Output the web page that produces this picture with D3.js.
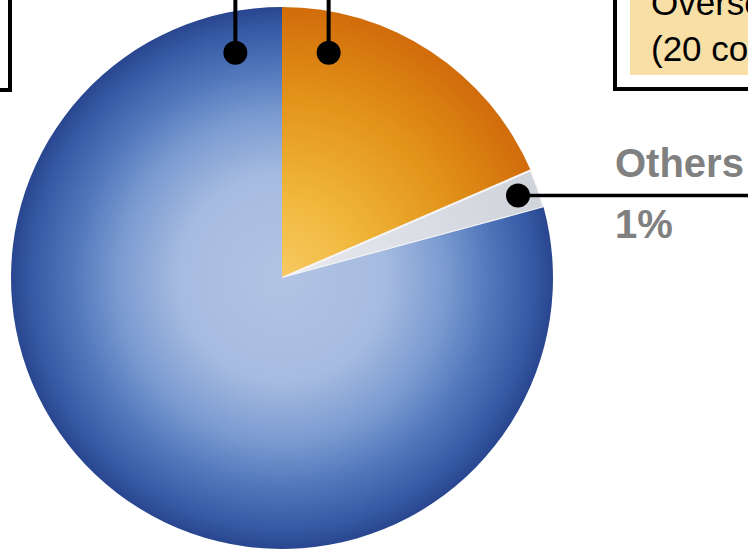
<!DOCTYPE html>
<html>
<head>
<meta charset="utf-8">
<script src="https://cdn.jsdelivr.net/npm/d3@7"></script>
<style>
  html, body { margin: 0; padding: 0; background: #fff; overflow: hidden; }
  svg { display: block; }
</style>
</head>
<body>
<svg id="chart" width="748" height="550"></svg>
<script>
// ---- data ----
const categories = ["Overseas", "Others", "Domestic"];
const values = [18.5, 2.3, 79.2];
const pctLabels = ["", "1%", ""];
const boxLines = ["Overseas", "(20 countries)"];

// ---- layout ----
const W = 748, H = 550;
const cx = 282, cy = 278, R = 271;
const svg = d3.select("#chart");
const defs = svg.append("defs");

function radial(id, stops) {
  const g = defs.append("radialGradient").attr("id", id)
    .attr("gradientUnits", "userSpaceOnUse")
    .attr("cx", 0).attr("cy", 0).attr("r", R);
  stops.forEach(s => g.append("stop").attr("offset", s[0]).attr("stop-color", s[1]));
}
radial("gOrange", [[0, "#f8ca62"], [0.3, "#f0b73c"], [0.65, "#e3951a"], [1, "#d16c0a"]]);
radial("gGray", [[0, "#e8eaee"], [1, "#cfd3da"]]);
radial("gBlue", [[0, "#b2c4e5"], [0.38, "#a6bbe0"], [0.6, "#7b9bd1"], [0.78, "#4f75ba"], [0.92, "#365ba5"], [1, "#29468f"]]);
const fills = ["url(#gOrange)", "url(#gGray)", "url(#gBlue)"];

const pie = d3.pie().sort(null).value(d => d)(values);
const arc = d3.arc().innerRadius(0).outerRadius(R);

const g = svg.append("g").attr("transform", `translate(${cx},${cy})`);
g.selectAll("path.slice").data(pie).join("path")
  .attr("class", "slice")
  .attr("d", arc)
  .attr("fill", (d, i) => fills[i])
  .attr("stroke", (d, i) => i === 1 ? "#f6f6f8" : "none")
  .attr("stroke-width", 2);

// ---- annotation boxes (cropped at the page edges) ----
svg.append("rect").attr("x", -300).attr("y", -60).attr("width", 310).attr("height", 150)
  .attr("fill", "none").attr("stroke", "#000").attr("stroke-width", 4);
svg.append("rect").attr("x", 615).attr("y", -60).attr("width", 400).attr("height", 149)
  .attr("fill", "#fff").attr("stroke", "#000").attr("stroke-width", 4);
svg.append("rect").attr("x", 630).attr("y", -60).attr("width", 400).attr("height", 135)
  .attr("fill", "#f7dfa6");
svg.append("text").attr("x", 651).attr("y", 15)
  .attr("font-family", "Liberation Sans, Arial, sans-serif").attr("font-size", 35)
  .attr("fill", "#000").text(boxLines[0]);
svg.append("text").attr("x", 651).attr("y", 61)
  .attr("font-family", "Liberation Sans, Arial, sans-serif").attr("font-size", 35)
  .attr("fill", "#000").text(boxLines[1]);

// ---- leader lines and dots ----
function polar(r, a) { return [cx + r * Math.sin(a), cy - r * Math.cos(a)]; }
const off = 11.7 * Math.PI / 180;
const pB = polar(230, pie[0].startAngle - off);
const pO = polar(230, pie[0].startAngle + off);
[pB, pO].forEach(p => {
  svg.append("line").attr("x1", p[0]).attr("x2", p[0]).attr("y1", p[1]).attr("y2", -5)
    .attr("stroke", "#000").attr("stroke-width", 4);
  svg.append("circle").attr("cx", p[0]).attr("cy", p[1]).attr("r", 12).attr("fill", "#000");
});
const mid = (pie[1].startAngle + pie[1].endAngle) / 2;
const pG = polar(250, mid);
svg.append("line").attr("x1", pG[0]).attr("x2", W + 5).attr("y1", pG[1]).attr("y2", pG[1])
  .attr("stroke", "#000").attr("stroke-width", 3.5);
svg.append("circle").attr("cx", pG[0]).attr("cy", pG[1]).attr("r", 12).attr("fill", "#000");

svg.append("text").attr("x", 615).attr("y", 177)
  .attr("font-family", "Liberation Sans, Arial, sans-serif").attr("font-size", 40)
  .attr("font-weight", "bold").attr("fill", "#808080").text(categories[1]);
svg.append("text").attr("x", 615).attr("y", 238)
  .attr("font-family", "Liberation Sans, Arial, sans-serif").attr("font-size", 40)
  .attr("font-weight", "bold").attr("fill", "#808080").text(pctLabels[1]);
</script>
</body>
</html>
